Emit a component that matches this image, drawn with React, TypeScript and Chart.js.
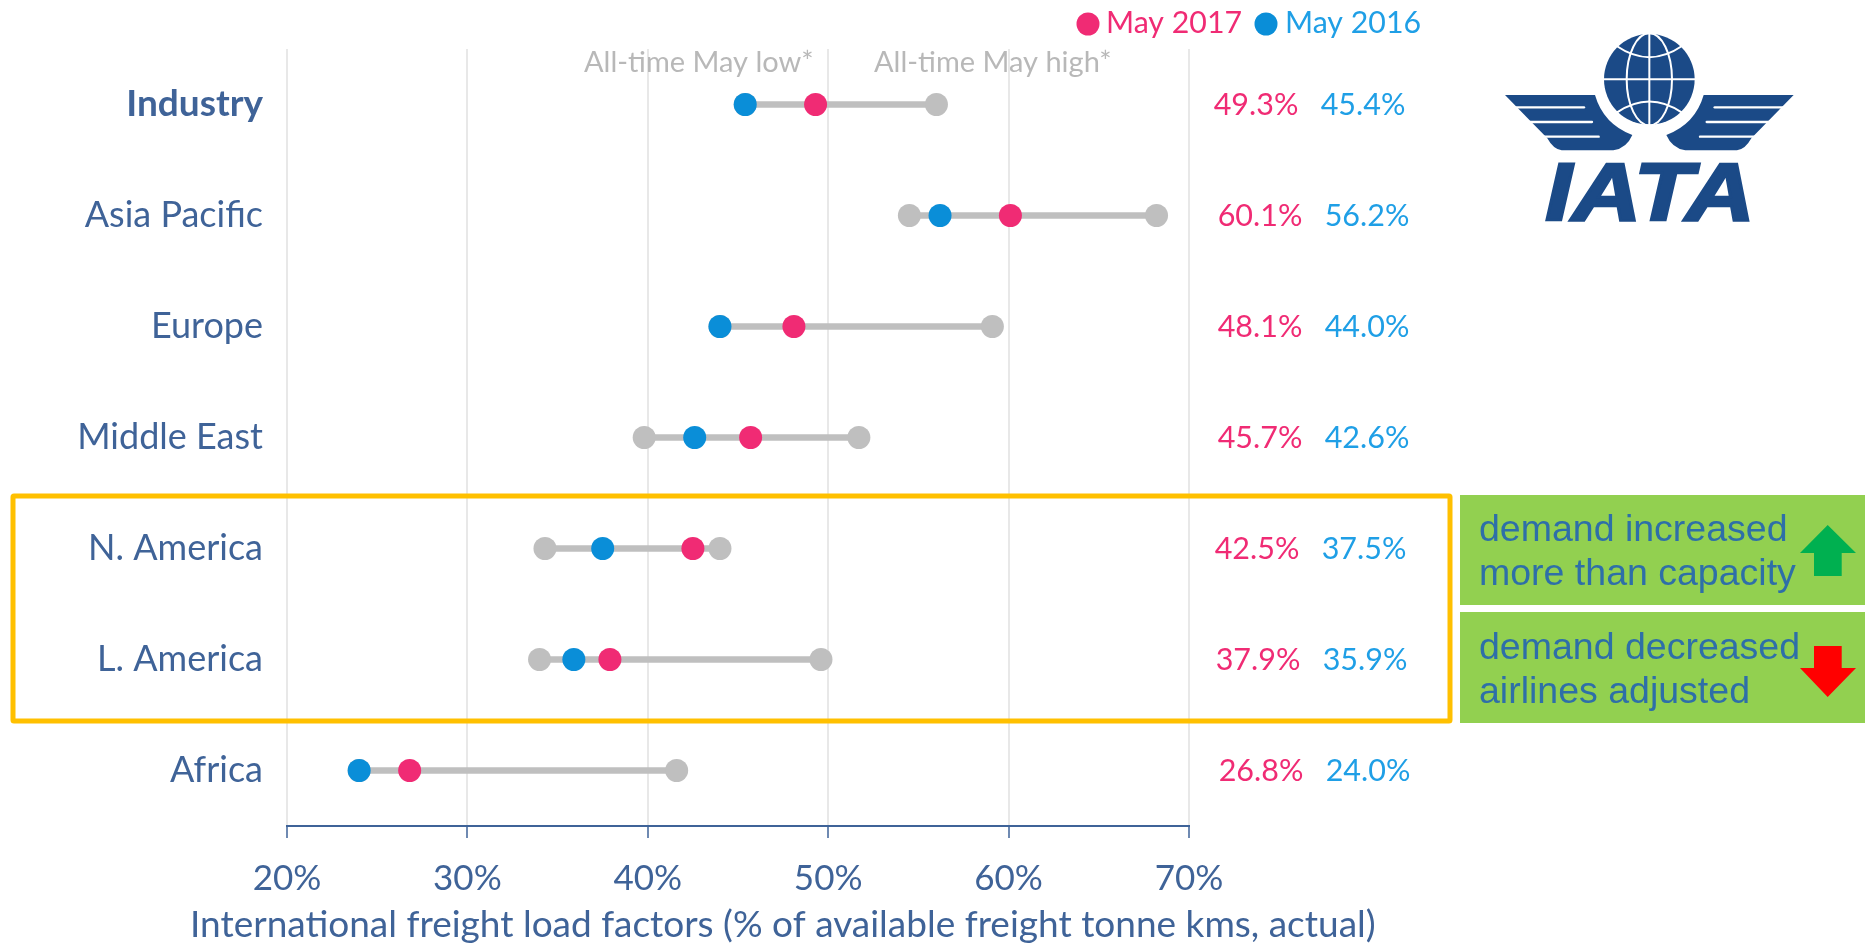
import React, { useEffect, useRef } from "react";
import { Chart, registerables } from "chart.js";

Chart.register(...registerables);

const regions = ["Industry", "Asia Pacific", "Europe", "Middle East", "N. America", "L. America", "Africa"];
const may2017 = [49.3, 60.1, 48.1, 45.7, 42.5, 37.9, 26.8];
const may2016 = [45.4, 56.2, 44.0, 42.6, 37.5, 35.9, 24.0];
const allTimeLow = [45.4, 54.5, 44.0, 39.8, 34.3, 34.0, 24.0];
const allTimeHigh = [56.0, 68.2, 59.1, 51.7, 44.0, 49.6, 41.6];
const xTicks = [20, 30, 40, 50, 60, 70];
const axisTitle = "International freight load factors (% of available freight tonne kms, actual)";
const labelNudgeX = [-4, 0, 0, 0, -3, -2, 1];

const PINK = "#f02b74";
const BLUE = "#0a8ed8";
const BLUE_TEXT = "#1f9fe6";
const GREY = "#bfbfbf";
const NAVY = "#3f6398";
const FONT = "Lato";

const textPlugin = {
  id: "textPlugin",
  afterDraw(chart: any) {
    const { ctx, scales } = chart;
    const y = scales.y;
    ctx.save();
    ctx.textBaseline = "middle";
    ctx.textAlign = "center";
    ctx.font = `30.5px ${FONT}`;
    regions.forEach((_, i) => {
      const yy = y.getPixelForValue(i) + 1;
      ctx.fillStyle = PINK;
      ctx.fillText(may2017[i].toFixed(1) + "%", 1260 + labelNudgeX[i], yy);
      ctx.fillStyle = BLUE_TEXT;
      ctx.fillText(may2016[i].toFixed(1) + "%", 1367 + labelNudgeX[i], yy);
    });
    ctx.textAlign = "left";
    ctx.font = `30.3px ${FONT}`;
    ctx.fillStyle = PINK;
    ctx.beginPath();
    ctx.arc(1088, 24, 11.5, 0, Math.PI * 2);
    ctx.fill();
    ctx.fillText("May 2017", 1106, 23);
    ctx.fillStyle = BLUE;
    ctx.beginPath();
    ctx.arc(1266, 24, 11.5, 0, Math.PI * 2);
    ctx.fill();
    ctx.fillStyle = BLUE_TEXT;
    ctx.fillText("May 2016", 1285, 23);
    ctx.fillStyle = "#b8b8b8";
    ctx.font = `29px ${FONT}`;
    ctx.fillText("All-time May low*", 584, 63);
    ctx.fillText("All-time May high*", 874, 63);
    ctx.fillStyle = NAVY;
    ctx.font = `37px ${FONT}`;
    ctx.fillText(axisTitle, 190, 925);
    ctx.restore();
  },
};

export default function App() {
  const ref = useRef<HTMLCanvasElement>(null);
  useEffect(() => {
    const common = { type: "line", showLine: false, pointBorderWidth: 0, pointHoverRadius: 11.5, pointRadius: 11.5, clip: false };
    const chart = new Chart(ref.current as any, {
      type: "bar",
      data: {
        labels: regions,
        datasets: [
          {
            label: "Range",
            data: regions.map((_, i) => [allTimeLow[i], allTimeHigh[i]]),
            backgroundColor: GREY,
            barThickness: 6,
            borderSkipped: false,
            order: 4,
          },
          { ...common, label: "All-time May low", data: allTimeLow, backgroundColor: GREY, order: 3 },
          { ...common, label: "All-time May high", data: allTimeHigh, backgroundColor: GREY, order: 3 },
          { ...common, label: "May 2016", data: may2016, backgroundColor: BLUE, order: 2 },
          { ...common, label: "May 2017", data: may2017, backgroundColor: PINK, order: 1 },
        ] as any,
      },
      options: {
        indexAxis: "y",
        animation: false,
        responsive: false,
        layout: { padding: { top: 49, right: 676, left: 0, bottom: 0 } },
        plugins: { legend: { display: false }, tooltip: { enabled: false } },
        scales: {
          x: {
            type: "linear",
            min: 20,
            max: 70,
            afterBuildTicks: (s: any) => {
              s.ticks = xTicks.map((value) => ({ value }));
            },
            afterFit: (s: any) => {
              s.height = 118;
            },
            border: { color: NAVY, width: 2 },
            grid: { color: "#e8e8e8", lineWidth: 2, tickColor: NAVY, tickLength: 12, tickWidth: 1.5 },
            ticks: {
              color: NAVY,
              padding: 20,
              maxRotation: 0,
              font: { family: FONT, size: 35 },
              callback: (v: any) => v + "%",
            },
          },
          y: {
            type: "category",
            afterFit: (s: any) => {
              s.width = 287;
            },
            border: { display: false },
            grid: { display: false },
            ticks: {
              color: NAVY,
              padding: 16,
              font: (c: any) => ({ family: FONT, size: c.index === 0 ? 37 : 36, weight: c.index === 0 ? "bold" : "normal" }),
            },
          },
        },
      } as any,
      plugins: [textPlugin],
    } as any);
    return () => chart.destroy();
  }, []);

  const logoColor = "#1b4a87";
  const wing = "M195,285 L465,285 Q490,372 577,405 Q560,445 520,451 L365,451 Q340,448 322,415 Z";
  const stripes = [
    [225, 322, 432],
    [265, 366, 456],
    [305, 410, 476],
  ];
  return (
    <div style={{ position: "fixed", left: 0, top: 0, width: 1865, height: 944, background: "#fff", overflow: "hidden" }}>
      <canvas ref={ref} width={1865} height={944} style={{ position: "absolute", left: 0, top: 0, display: "block" }} />
      <svg width={1865} height={944} style={{ position: "absolute", left: 0, top: 0 }}>
        <rect x={13} y={496} width={1437} height={225} fill="none" stroke="#ffc000" strokeWidth={5} rx={1} />
        <rect x={1460} y={495} width={405} height={110} fill="#92d050" />
        <rect x={1460} y={612} width={405} height={111} fill="#92d050" />
        <g fontFamily="Liberation Sans" fontSize={37.5} fill="#2e6fa8">
          <text x={1479} y={541}>demand increased</text>
          <text x={1479} y={585}>more than capacity</text>
          <text x={1479} y={659}>demand decreased</text>
          <text x={1479} y={703}>airlines adjusted</text>
        </g>
        <polygon fill="#00b050" points="1827.7,525 1856,553 1841.7,553 1841.7,576 1814,576 1814,553 1800,553" />
        <polygon fill="#ff0000" points="1814,646 1841.7,646 1841.7,668 1856,668 1827.7,697 1800,668 1814,668" />
        <svg x={1440} y={0} width={425} height={250} viewBox="0 0 1275 750">
          <circle cx={628} cy={238} r={136} fill={logoColor} />
          <g fill="none" stroke="#fff" strokeWidth={6}>
            <line x1={488} y1={238} x2={768} y2={238} />
            <line x1={628} y1={98} x2={628} y2={378} />
            <ellipse cx={628} cy={238} rx={68} ry={138} />
            <path d="M530,138 Q628,205 726,138" />
            <path d="M530,338 Q628,271 726,338" />
          </g>
          {[0, 1].map((m) => (
            <g key={m} transform={m ? "translate(1256,0) scale(-1,1)" : undefined}>
              <path d={wing} fill={logoColor} />
              {stripes.map(([x1, yy, x2]) => (
                <line key={yy} x1={x1} y1={yy} x2={x2} y2={yy} stroke="#fff" strokeWidth={7} strokeLinecap="round" />
              ))}
            </g>
          ))}
          <text
            x={316}
            y={660}
            fontFamily="Liberation Sans"
            fontWeight="bold"
            fontStyle="italic"
            fontSize={247}
            textLength={628}
            lengthAdjust="spacingAndGlyphs"
            fill={logoColor}
            stroke={logoColor}
            strokeWidth={8}
          >
            IATA
          </text>
        </svg>
      </svg>
    </div>
  );
}
